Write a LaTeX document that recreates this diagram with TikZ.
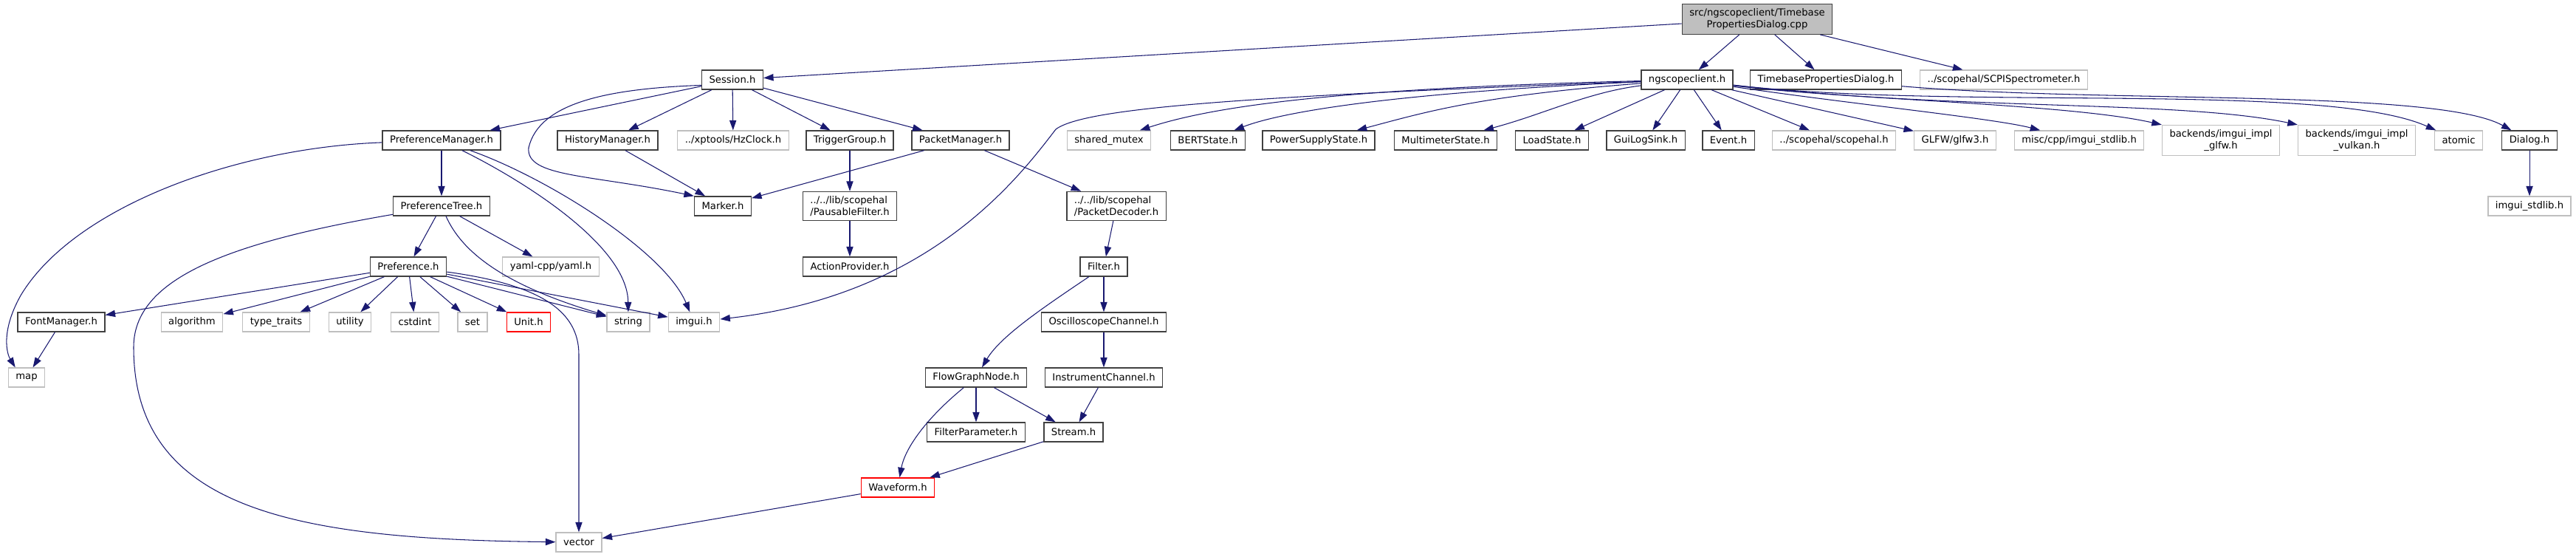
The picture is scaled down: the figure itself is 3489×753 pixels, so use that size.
\documentclass[tikz,border=0pt]{standalone}
\usepackage{fontspec}
\setmainfont{DejaVu Sans}
\usetikzlibrary{arrows.meta,positioning,calc}
\definecolor{edgeblue}{HTML}{191970}
\definecolor{frame}{HTML}{404040}
\definecolor{syscol}{HTML}{BFBFBF}

\begin{document}
\begin{tikzpicture}[
      x=0.2mm, y=-0.2mm,
      font=\fontsize{7.5}{9}\selectfont,
      >={Triangle[length=2.7mm,width=1.85mm]},
      box/.style={draw=frame, line width=0.75pt, fill=white, minimum height=5.2mm,
                  inner xsep=2mm, inner ysep=1.2mm, align=center},
      sys/.style={box, draw=syscol},
      bad/.style={box, draw=red},
      rootbox/.style={box, fill=syscol},
      dep/.style={->, draw=edgeblue, line width=0.6pt}
    ]
    \useasboundingbox (0,0) rectangle (3489,753);
    \node[rootbox] (root) at (2380,26) {src/ngscopeclient/Timebase\\PropertiesDialog.cpp};
    \node[box] (sess)     at (992,108)  {Session.h};
    \node[box] (ngs)      at (2285,108) {ngscopeclient.h};
    \node[box] (tpd)      at (2473,108) {TimebasePropertiesDialog.h};
    \node[sys] (spec)     at (2714,108) {../scopehal/SCPISpectrometer.h};
    \node[box] (prefmgr)  at (598,190)  {PreferenceManager.h};
    \node[box] (histmgr)  at (823,190)  {HistoryManager.h};
    \node[sys] (hzclock)  at (993,190)  {../xptools/HzClock.h};
    \node[box] (trig)     at (1151,190) {TriggerGroup.h};
    \node[box] (pktmgr)   at (1301,190) {PacketManager.h};
    \node[sys] (shmutex)  at (1502,190) {shared\_mutex};
    \node[box] (bert)     at (1636,190) {BERTState.h};
    \node[box] (psu)      at (1786,190) {PowerSupplyState.h};
    \node[box] (dmm)      at (1958,190) {MultimeterState.h};
    \node[box] (load)     at (2102,190) {LoadState.h};
    \node[box] (logsink)  at (2229,190) {GuiLogSink.h};
    \node[box] (event)    at (2341,190) {Event.h};
    \node[sys] (scopehal) at (2484,190) {../scopehal/scopehal.h};
    \node[sys] (glfw)     at (2648,190) {GLFW/glfw3.h};
    \node[sys] (miscstd)  at (2816,190) {misc/cpp/imgui\_stdlib.h};
    \node[sys] (implglfw) at (3008,190) {backends/imgui\_impl\\\_glfw.h};
    \node[sys] (implvk)   at (3192,190) {backends/imgui\_impl\\\_vulkan.h};
    \node[sys] (atomic)   at (3330,190) {atomic};
    \node[box] (dialog)   at (3426,190) {Dialog.h};
    \node[box] (preftree) at (598,279)  {PreferenceTree.h};
    \node[box] (marker)   at (979,279)  {Marker.h};
    \node[box,align=left] (pausable) at (1151,279) {../../lib/scopehal\\/PausableFilter.h};
    \node[box,align=left] (pktdec)   at (1512,279) {../../lib/scopehal\\/PacketDecoder.h};
    \node[sys] (imstd)    at (3426,279) {imgui\_stdlib.h};
    \node[box] (pref)     at (553,361)  {Preference.h};
    \node[sys] (yaml)     at (746,361)  {yaml-cpp/yaml.h};
    \node[box] (action)   at (1151,361) {ActionProvider.h};
    \node[box] (filter)   at (1495,361) {Filter.h};
    \node[box] (fontmgr)  at (83,436)   {FontManager.h};
    \node[sys] (algo)     at (260,436)  {algorithm};
    \node[sys] (traits)   at (374,436)  {type\_traits};
    \node[sys] (utility)  at (474,436)  {utility};
    \node[sys] (cstdint)  at (562,436)  {cstdint};
    \node[sys] (set)      at (640,436)  {set};
    \node[bad] (unit)     at (716,436)  {Unit.h};
    \node[sys] (string)   at (851,436)  {string};
    \node[sys] (imgui)    at (940,436)  {imgui.h};
    \node[box] (scopech)  at (1495,436) {OscilloscopeChannel.h};
    \node[sys] (map)      at (36,511)   {map};
    \node[box] (flow)     at (1322,511) {FlowGraphNode.h};
    \node[box] (instch)   at (1495,511) {InstrumentChannel.h};
    \node[box] (fparam)   at (1322,585) {FilterParameter.h};
    \node[box] (stream)   at (1454,585) {Stream.h};
    \node[bad] (wfm)      at (1216,660) {Waveform.h};
    \node[sys] (vector)   at (784,734)  {vector};
    % root file
    \draw[dep] (root) -- (sess);
    \draw[dep] (root) -- (ngs);
    \draw[dep] (root) -- (tpd);
    \draw[dep] (root) -- (spec);
    % Session.h
    \draw[dep] (sess) -- (prefmgr);
    \draw[dep] (sess) -- (histmgr);
    \draw[dep] (sess) -- (hzclock);
    \draw[dep] (sess) -- (trig);
    \draw[dep] (sess) -- (pktmgr);
    \draw[dep] (sess.190) .. controls (820,120) and (730,140) .. (716,200)
               .. controls (712,240) and (800,236) .. (marker.north west);
    \draw[dep] (histmgr) -- (marker);
    \draw[dep] (pktmgr) -- (marker);
    \draw[dep] (pktmgr) -- (pktdec);
    \draw[dep] (trig) -- (pausable);
    \draw[dep] (pausable) -- (action);
    \draw[dep] (pktdec) -- (filter);
    \draw[dep] (filter) -- (scopech);
    \draw[dep] (filter) .. controls (1415,415) and (1355,455) .. (flow);
    \draw[dep] (scopech) -- (instch);
    \draw[dep] (instch) -- (stream);
    \draw[dep] (flow) -- (fparam);
    \draw[dep] (flow) -- (stream);
    \draw[dep] (flow) .. controls (1250,570) and (1225,610) .. (wfm);
    \draw[dep] (stream) -- (wfm);
    \draw[dep] (wfm) -- (vector);
    % preferences
    \draw[dep] (prefmgr) -- (preftree);
    \draw[dep] (prefmgr) .. controls (320,200) and (100,280) .. (28,400)
               .. controls (0,450) and (10,480) .. ([xshift=2mm]map.north west);
    \draw[dep] (prefmgr) .. controls (700,240) and (850,330) .. (string);
    \draw[dep] (prefmgr) .. controls (740,240) and (900,340) .. (imgui);
    \draw[dep] (preftree) -- (pref);
    \draw[dep] (preftree) -- (yaml);
    \draw[dep] (preftree) .. controls (625,340) and (680,385) .. (string);
    \draw[dep] (preftree) .. controls (300,330) and (181,380) .. (181,470)
               .. controls (181,690) and (400,730) .. (vector);
    \draw[dep] (pref) -- (fontmgr);
    \draw[dep] (pref) -- (algo);
    \draw[dep] (pref) -- (traits);
    \draw[dep] (pref) -- (utility);
    \draw[dep] (pref) -- (cstdint);
    \draw[dep] (pref) -- (set);
    \draw[dep] (pref) -- (unit);
    \draw[dep] (pref) -- (string);
    \draw[dep] (pref) -- (imgui);
    \draw[dep] (pref) .. controls (730,385) and (784,420) .. (784,480) -- (vector);
    \draw[dep] (fontmgr) -- (map);
    % ngscopeclient.h
    \draw[dep] (ngs) .. controls (1700,130) and (1470,145) .. (1430,175)
               .. controls (1380,240) and (1260,400) .. (imgui);
    \draw[dep] (ngs) .. controls (1800,120) and (1640,145) .. (shmutex);
    \draw[dep] (ngs) .. controls (1900,125) and (1740,150) .. (bert);
    \draw[dep] (ngs) .. controls (2000,130) and (1930,152) .. (psu);
    \draw[dep] (ngs) .. controls (2150,125) and (2090,155) .. (dmm);
    \draw[dep] (ngs) -- (load);
    \draw[dep] (ngs) -- (logsink);
    \draw[dep] (ngs) -- (event);
    \draw[dep] (ngs) -- (scopehal);
    \draw[dep] (ngs) -- (glfw);
    \draw[dep] (ngs) .. controls (2500,140) and (2700,160) .. (miscstd);
    \draw[dep] (ngs) .. controls (2500,135) and (2800,140) .. (implglfw.north west);
    \draw[dep] (ngs) .. controls (2650,150) and (2950,135) .. (implvk.north west);
    \draw[dep] (ngs) .. controls (2650,150) and (3150,110) .. (atomic);
    \draw[dep] (tpd) .. controls (2850,140) and (3300,120) .. (dialog);
    \draw[dep] (dialog) -- (imstd);
  \end{tikzpicture}
\end{document}
